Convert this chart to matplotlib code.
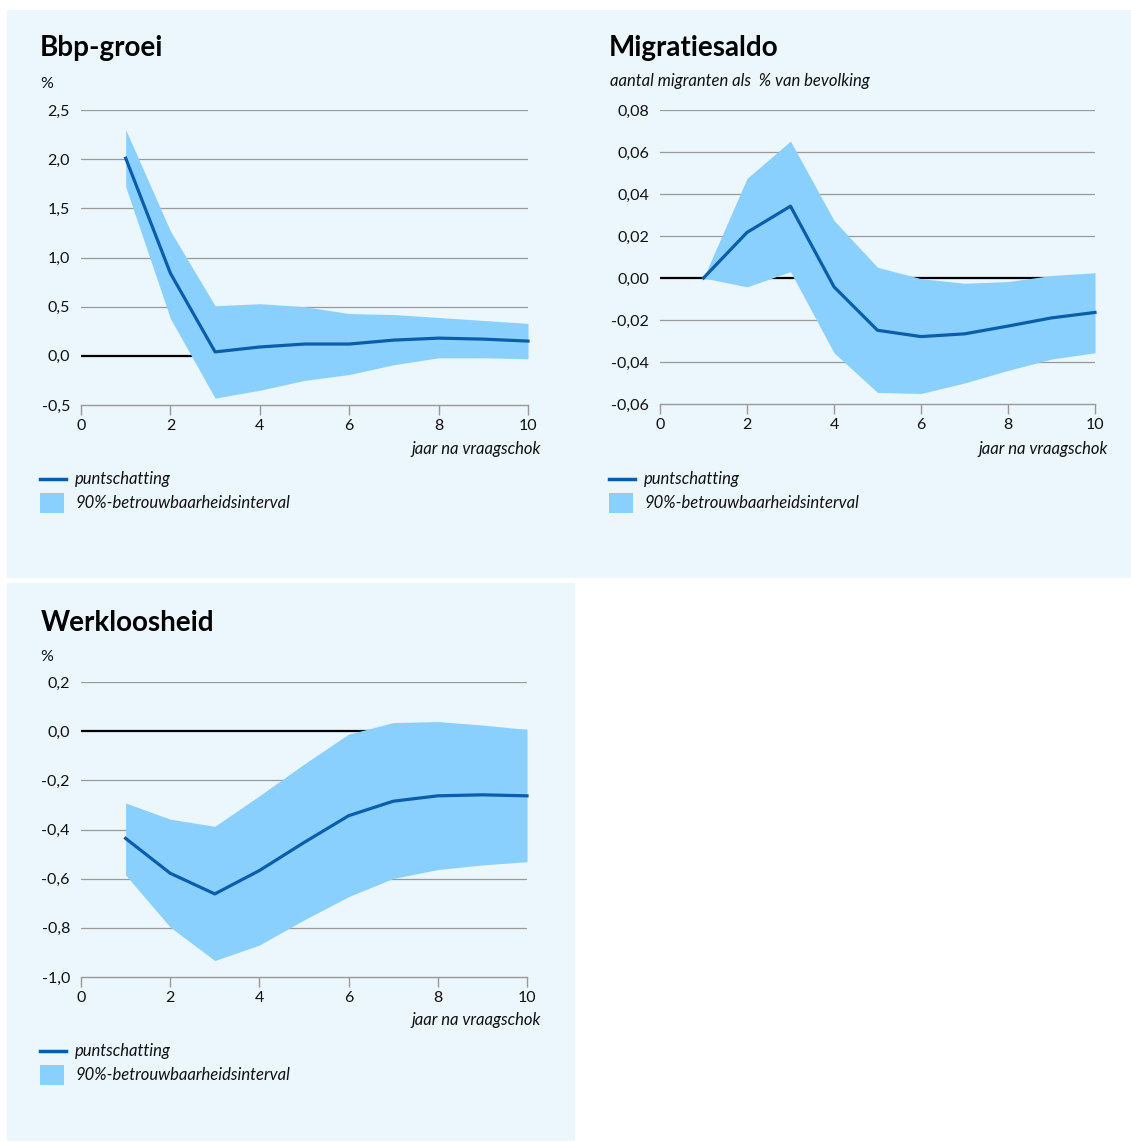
import matplotlib
matplotlib.use('Agg')
import matplotlib.pyplot as plt
from matplotlib.patches import Rectangle
from matplotlib.lines import Line2D

# jaren na de vraagschok
jaren = [1, 2, 3, 4, 5, 6, 7, 8, 9, 10]

# Bbp-groei (%)
bbp_punt = [2.01, 0.84, 0.04, 0.09, 0.12, 0.12, 0.16, 0.18, 0.17, 0.15]
bbp_hoog = [2.30, 1.27, 0.51, 0.53, 0.50, 0.43, 0.42, 0.39, 0.36, 0.33]
bbp_laag = [1.72, 0.38, -0.43, -0.35, -0.25, -0.19, -0.09, -0.02, -0.02, -0.03]

# Migratiesaldo (% van bevolking)
mig_punt = [0.0, 0.0217, 0.0342, -0.0042, -0.0249, -0.0279, -0.0266, -0.0229, -0.0190, -0.0164]
mig_hoog = [0.0, 0.0474, 0.0652, 0.0274, 0.0051, -0.0003, -0.0025, -0.0017, 0.0012, 0.0025]
mig_laag = [0.0, -0.0042, 0.0030, -0.0356, -0.0545, -0.0550, -0.0500, -0.0440, -0.0386, -0.0356]

# Werkloosheid (%)
wl_punt = [-0.436, -0.578, -0.662, -0.567, -0.453, -0.344, -0.285, -0.263, -0.259, -0.263]
wl_hoog = [-0.292, -0.358, -0.387, -0.263, -0.134, -0.012, 0.035, 0.039, 0.025, 0.007]
wl_laag = [-0.585, -0.797, -0.933, -0.870, -0.768, -0.673, -0.599, -0.563, -0.544, -0.531]

bbp_ticks = [-0.5, 0.0, 0.5, 1.0, 1.5, 2.0, 2.5]
mig_ticks = [-0.06, -0.04, -0.02, 0.0, 0.02, 0.04, 0.06, 0.08]
wl_ticks = [-1.0, -0.8, -0.6, -0.4, -0.2, 0.0, 0.2]
x_ticks = [0, 2, 4, 6, 8, 10]

BG = '#ebf6fd'
FILL = '#8ad0fe'
LINE = '#0a5daa'
GRID = '#9a9a9a'
TXT = '#111111'
FONT = 'Lato'

W, H = 1131, 1142
fig = plt.figure(figsize=(W / 100, H / 100), dpi=100)
fig.patch.set_facecolor('white')


def fx(x):
    return x / W


def fy(y):
    return 1 - y / H


def achtergrond(x0, y0, x1, y1):
    fig.patches.append(Rectangle((fx(x0), fy(y1)), (x1 - x0) / W, (y1 - y0) / H,
                                 transform=fig.transFigure, facecolor=BG,
                                 edgecolor='none', zorder=-1))


def teken(l, t, r, b, punt, laag, hoog, yticks, dec):
    ax = fig.add_axes([fx(l), fy(b), (r - l) / W, (b - t) / H])
    ax.set_facecolor('none')
    for s in ax.spines.values():
        s.set_visible(False)
    ax.spines['bottom'].set_visible(True)
    ax.spines['bottom'].set_color(GRID)
    ax.spines['bottom'].set_linewidth(1.0)
    for v in yticks[1:]:
        if abs(v) < 1e-9:
            ax.axhline(v, color='black', lw=1.6, zorder=1.5)
        else:
            ax.axhline(v, color=GRID, lw=0.9, zorder=1)
    ax.fill_between(jaren, laag, hoog, color=FILL, lw=0, zorder=2)
    ax.plot(jaren, punt, color=LINE, lw=2.3, zorder=3, clip_on=False)
    ax.set_xlim(0, 10)
    ax.set_ylim(yticks[0], yticks[-1])
    ax.set_xticks(x_ticks)
    ax.set_xticklabels([str(v) for v in x_ticks], fontsize=11.5, family=FONT, color=TXT)
    ax.set_yticks(yticks)
    ax.set_yticklabels([f'{v:.{dec}f}'.replace('.', ',') for v in yticks],
                       fontsize=11.5, family=FONT, color=TXT)
    ax.tick_params(axis='y', length=0, pad=8)
    ax.tick_params(axis='x', length=7, width=1.0, color=GRID, pad=3)
    return ax


def legenda(x, y):
    fig.lines.append(Line2D([fx(x), fx(x + 26)], [fy(y), fy(y)], transform=fig.transFigure,
                            color=LINE, lw=2.5))
    fig.text(fx(x + 35), fy(y), 'puntschatting', fontsize=12, style='italic',
             family=FONT, color=TXT, va='center')
    fig.patches.append(Rectangle((fx(x), fy(y + 34)), 24 / W, 20 / H,
                                 transform=fig.transFigure, facecolor=FILL,
                                 edgecolor='none'))
    fig.text(fx(x + 35), fy(y + 24), '90%-betrouwbaarheidsinterval', fontsize=12,
             style='italic', family=FONT, color=TXT, va='center')


# achtergrondvlakken
achtergrond(7, 10, 576, 578)
achtergrond(576, 10, 1131, 578)
achtergrond(7, 583, 575, 1141)

# Bbp-groei
teken(81, 110, 528, 405, bbp_punt, bbp_laag, bbp_hoog, bbp_ticks, 1)
fig.text(fx(40), fy(56), 'Bbp-groei', fontsize=20, weight='bold', family=FONT,
         color='black', va='baseline')
fig.text(fx(40), fy(88), '%', fontsize=11.5, family=FONT, color=TXT, va='baseline')
fig.text(fx(541), fy(449), 'jaar na vraagschok', fontsize=12, style='italic',
         family=FONT, color=TXT, ha='right', va='center')
legenda(40, 479)

# Migratiesaldo
teken(660, 110, 1095, 404, mig_punt, mig_laag, mig_hoog, mig_ticks, 2)
fig.text(fx(609), fy(56), 'Migratiesaldo', fontsize=20, weight='bold', family=FONT,
         color='black', va='baseline')
fig.text(fx(610), fy(81), 'aantal migranten als  % van bevolking', fontsize=12,
         style='italic', family=FONT, color=TXT, va='center')
fig.text(fx(1108), fy(449), 'jaar na vraagschok', fontsize=12, style='italic',
         family=FONT, color=TXT, ha='right', va='center')
legenda(609, 479)

# Werkloosheid
teken(81, 682, 527, 977, wl_punt, wl_laag, wl_hoog, wl_ticks, 1)
fig.text(fx(41), fy(631), 'Werkloosheid', fontsize=20, weight='bold', family=FONT,
         color='black', va='baseline')
fig.text(fx(40), fy(661), '%', fontsize=11.5, family=FONT, color=TXT, va='baseline')
fig.text(fx(541), fy(1020), 'jaar na vraagschok', fontsize=12, style='italic',
         family=FONT, color=TXT, ha='right', va='center')
legenda(40, 1051)

fig.savefig('out.png', dpi=100)
